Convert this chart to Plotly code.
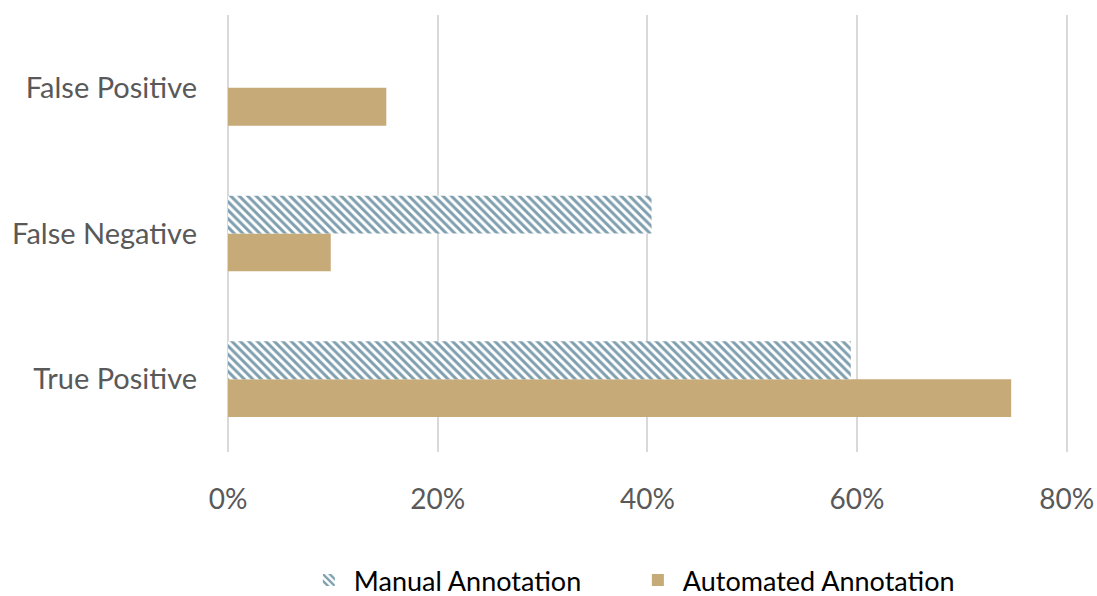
import plotly.graph_objects as go

categories = ["True Positive", "False Negative", "False Positive"]
manual = [0.594, 0.404, 0.0]
automated = [0.747, 0.098, 0.151]
tick_vals = [0, 0.2, 0.4, 0.6, 0.8]
tick_text = ["0%", "20%", "40%", "60%", "80%"]

fig = go.Figure()
fig.add_trace(go.Bar(
    y=categories, x=automated, orientation="h", name="Automated Annotation",
    marker=dict(color="#c6aa78", line=dict(width=0)),
))
fig.add_trace(go.Bar(
    y=categories, x=manual, orientation="h", name="Manual Annotation",
    marker=dict(color="#7f9faf", line=dict(width=0),
                pattern=dict(shape="\\", fgcolor="#7f9faf", bgcolor="white",
                             size=6, solidity=0.5, fillmode="replace")),
))

font = "Lato, Open Sans, sans-serif"
fig.update_layout(
    width=1097, height=596,
    margin=dict(l=228, r=29, t=15, b=144, autoexpand=False),
    paper_bgcolor="white", plot_bgcolor="white",
    barmode="group", bargap=0.48, bargroupgap=0,
    font=dict(family=font, size=28, color="#595959"),
    xaxis=dict(range=[0, 0.8012], tickvals=tick_vals, ticktext=tick_text,
               showgrid=True, gridcolor="#d9d9d9", gridwidth=2,
               zeroline=True, zerolinecolor="#d9d9d9", zerolinewidth=2,
               showline=False, ticks="", ticklabelstandoff=28,
               tickfont=dict(size=28, color="#595959")),
    yaxis=dict(categoryorder="array", categoryarray=categories,
               showgrid=False, zeroline=False, showline=False, ticks="",
               ticklabelstandoff=30, tickfont=dict(size=29, color="#595959")),
    legend=dict(orientation="h", xref="container", yref="container",
                x=0.277, xanchor="left", y=0.026, yanchor="middle",
                traceorder="reversed", font=dict(size=27, color="#000000"),
                itemsizing="constant", itemwidth=40,
                entrywidth=274, entrywidthmode="pixels"),
    showlegend=True,
)
fig.write_html("out.html")
